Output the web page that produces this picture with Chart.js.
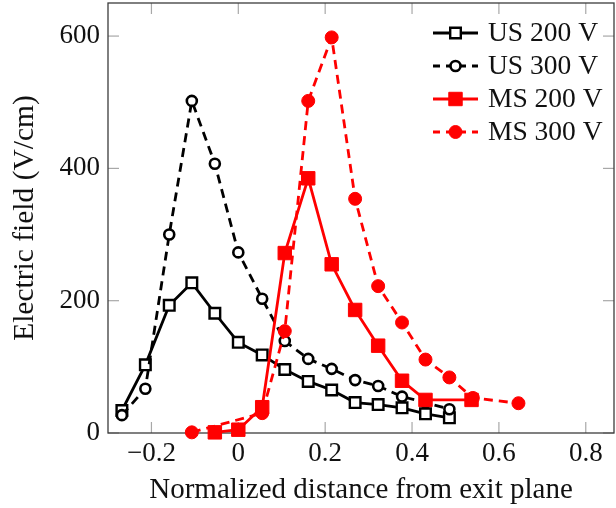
<!DOCTYPE html>
<html><head><meta charset="utf-8">
<script src="https://cdn.jsdelivr.net/npm/chart.js@4/dist/chart.umd.min.js"></script>
<style>html,body{margin:0;padding:0;background:#fff}#wrap{width:616px;height:508px}</style>
</head><body><div id="wrap"><canvas id="c" width="616" height="508"></canvas></div>
<script>
// ---- data ----
const seriesNames = ['US 200 V', 'US 300 V', 'MS 200 V', 'MS 300 V'];
const usX   = [-0.268, -0.214, -0.159, -0.107, -0.054, 0, 0.055, 0.107, 0.161, 0.215, 0.269, 0.322, 0.377, 0.431, 0.486];
const us200 = [34, 103, 193, 227, 181, 137, 118, 96, 78, 65, 46, 43, 38, 29, 23];
const us300 = [27, 67, 300, 502, 407, 273, 203, 139, 112, 97, 80, 71, 55, 46, 36];
const ms200X = [-0.054, 0, 0.055, 0.107, 0.161, 0.215, 0.269, 0.322, 0.377, 0.431, 0.537];
const ms200  = [1, 5, 39, 272, 385, 255, 186, 132, 79, 50, 50];
const ms300X = [-0.107, 0.055, 0.107, 0.161, 0.215, 0.269, 0.322, 0.377, 0.431, 0.486, 0.540, 0.645];
const ms300  = [1, 30, 154, 502, 598, 354, 222, 167, 111, 84, 53, 45];
const xTicks = [-0.2, 0, 0.2, 0.4, 0.6, 0.8];
const yTicks = [0, 200, 400, 600];
const xTitle = 'Normalized distance from exit plane';
const yTitle = 'Electric field (V/cm)';

const FONT = '"Liberation Serif", "Times New Roman", serif';
const pts = (xs, ys) => xs.map((x, i) => ({x, y: ys[i]}));

const styles = [
  {color:'#000', dash:[], pointStyle:'rect', radius:7.5, bg:'#fff', bw:2.4},
  {color:'#000', dash:[9,6], pointStyle:'circle', radius:5, bg:'#fff', bw:2.6},
  {color:'#ff0000', dash:[], pointStyle:'rect', radius:9.5, bg:'#ff0000', bw:1},
  {color:'#ff0000', dash:[9,6], pointStyle:'circle', radius:6.5, bg:'#ff0000', bw:1}
];
const dataSets = [pts(usX, us200), pts(usX, us300), pts(ms200X, ms200), pts(ms300X, ms300)];

const frame = {
  id: 'frame',
  beforeDatasetsDraw(chart) {
    const {ctx, chartArea: a, scales: {x, y}} = chart;
    const L = 11;
    ctx.save();
    ctx.strokeStyle = '#a8a8a8';
    ctx.lineWidth = 1.2;
    const seg = (x1, y1, x2, y2) => { ctx.beginPath(); ctx.moveTo(x1, y1); ctx.lineTo(x2, y2); ctx.stroke(); };
    xTicks.forEach(v => { const p = x.getPixelForValue(v); seg(p, a.bottom, p, a.bottom - L); seg(p, a.top, p, a.top + L); });
    yTicks.forEach(v => { const p = y.getPixelForValue(v); seg(a.left, p, a.left + L, p); seg(a.right, p, a.right - L, p); });
    ctx.strokeStyle = '#3c3c3c';
    ctx.lineWidth = 1.3;
    ctx.strokeRect(a.left, a.top, a.width, a.height);
    ctx.restore();
  },
  afterDatasetsDraw(chart) {
    const {ctx, chartArea: a} = chart;
    ctx.save();
    const x0 = a.right - 181, x1 = a.right - 136, xm = (x0 + x1) / 2, xt = a.right - 126;
    seriesNames.forEach((name, i) => {
      const s = styles[i];
      const yy = a.top + 30 + i * 33;
      ctx.strokeStyle = s.color;
      ctx.lineWidth = 2.8;
      ctx.setLineDash(s.dash.length ? [7, 6] : []);
      ctx.beginPath(); ctx.moveTo(x0, yy); ctx.lineTo(x1, yy); ctx.stroke();
      ctx.setLineDash([]);
      ctx.fillStyle = s.bg; ctx.strokeStyle = s.color; ctx.lineWidth = s.bw;
      Chart.helpers.drawPoint(ctx, {pointStyle: s.pointStyle, radius: s.radius, rotation: 0, borderWidth: s.bw}, xm, yy);
      ctx.fillStyle = '#111';
      ctx.font = '27.5px ' + FONT;
      ctx.textBaseline = 'middle';
      ctx.textAlign = 'left';
      ctx.fillText(name, xt, yy + 1);
    });
    ctx.restore();
  }
};

new Chart(document.getElementById('c'), {
  type: 'line',
  data: {
    datasets: dataSets.map((d, i) => ({
      label: seriesNames[i],
      data: d,
      borderColor: styles[i].color,
      backgroundColor: styles[i].bg,
      borderWidth: 2.8,
      borderDash: styles[i].dash,
      pointStyle: styles[i].pointStyle,
      pointRadius: styles[i].radius,
      pointBorderWidth: styles[i].bw,
      pointBorderColor: styles[i].color,
      pointBackgroundColor: styles[i].bg,
      tension: 0,
      fill: false,
      clip: false,
      order: 4 - i
    }))
  },
  options: {
    responsive: false,
    devicePixelRatio: 1,
    animation: false,
    events: [],
    layout: {autoPadding: false, padding: {top: 3, right: 2, left: 0, bottom: 0}},
    plugins: {legend: {display: false}, tooltip: {enabled: false}},
    scales: {
      x: {
        type: 'linear', min: -0.3, max: 0.865,
        afterBuildTicks: s => { s.ticks = xTicks.map(v => ({value: v})); },
        afterFit: s => { s.height = 75; s.paddingLeft = 0; s.paddingRight = 0; },
        grid: {display: false, drawTicks: false},
        border: {display: false},
        ticks: {
          padding: 5, color: '#111', font: {family: FONT, size: 27},
          maxRotation: 0, autoSkip: false,
          callback: v => v < 0 ? '\u2212' + Math.abs(v) : String(v)
        },
        title: {display: true, text: xTitle, color: '#111', font: {family: FONT, size: 29}, padding: {top: 0, bottom: 0}}
      },
      y: {
        type: 'linear', min: 0, max: 650,
        afterBuildTicks: s => { s.ticks = yTicks.map(v => ({value: v})); },
        afterFit: s => { s.width = 108; s.paddingTop = 0; s.paddingBottom = 0; },
        grid: {display: false, drawTicks: false},
        border: {display: false},
        ticks: {padding: 8, color: '#111', font: {family: FONT, size: 27}, autoSkip: false},
        title: {display: true, text: yTitle, color: '#111', font: {family: FONT, size: 29.5}, padding: {top: 8, bottom: 0}}
      }
    }
  },
  plugins: [frame]
});
</script>
</body></html>
